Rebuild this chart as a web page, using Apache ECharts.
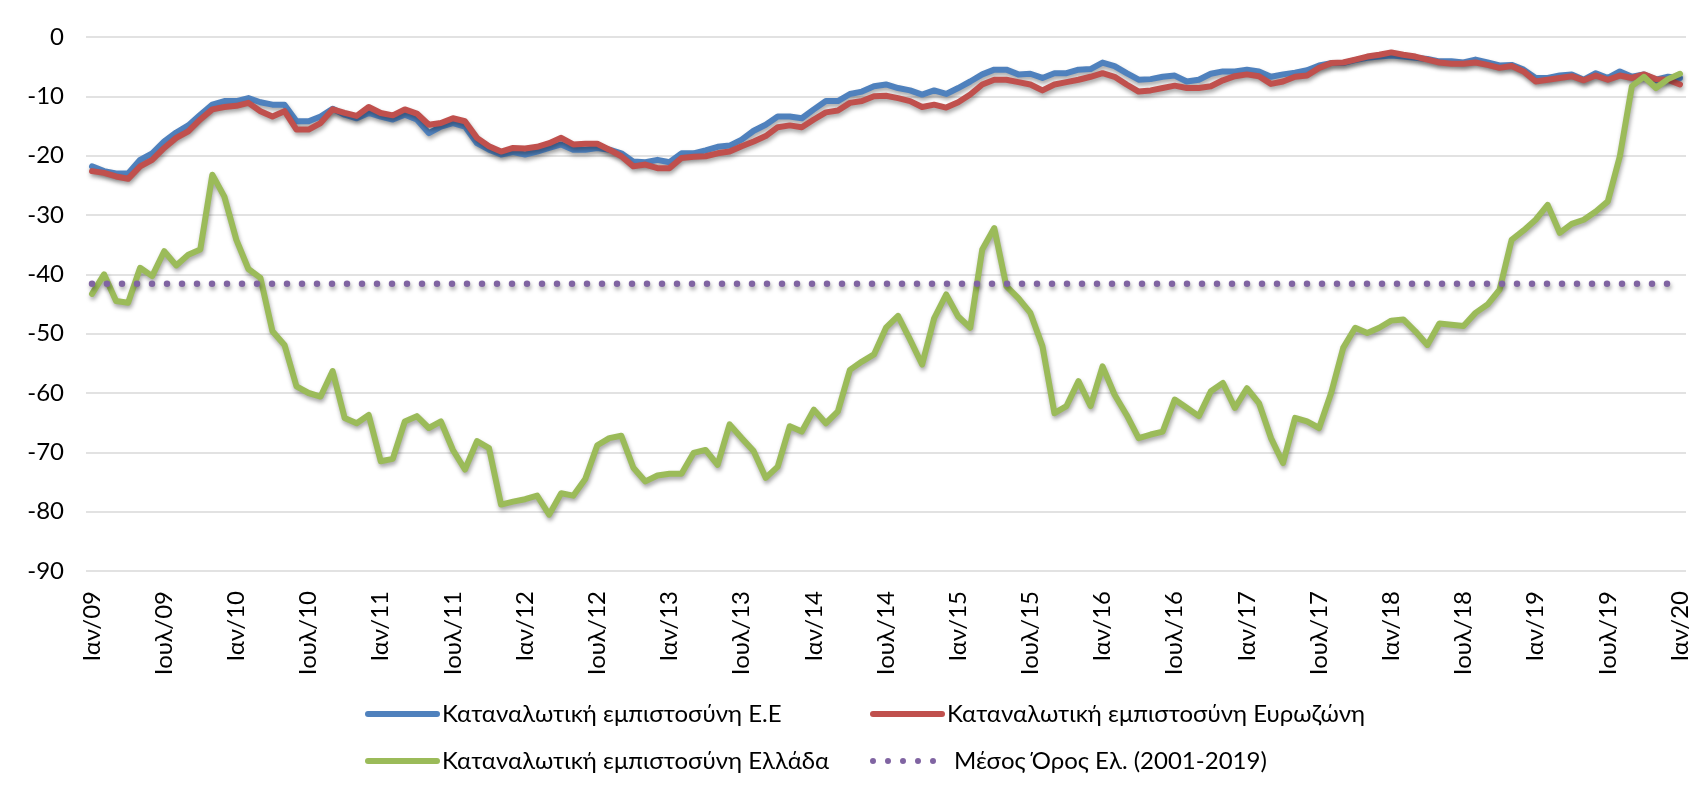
<!DOCTYPE html>
<html>
<head>
<meta charset="utf-8">
<script src="https://cdn.jsdelivr.net/npm/echarts@6/dist/echarts.min.js"></script>
<style>
html,body{margin:0;padding:0;background:#fff;}
#chart{width:1703px;height:794px;}
</style>
</head>
<body>
<div id="chart"></div>
<script>
// ---- Data ----
const monthNames = ['Ιαν','Φεβ','Μαρ','Απρ','Μαϊ','Ιουν','Ιουλ','Αυγ','Σεπ','Οκτ','Νοε','Δεκ'];
const years = ['09','10','11','12','13','14','15','16','17','18','19','20'];
const seriesNames = [
  'Καταναλωτική εμπιστοσύνη Ε.Ε',
  'Καταναλωτική εμπιστοσύνη Ευρωζώνη',
  'Καταναλωτική εμπιστοσύνη Ελλάδα',
  'Μέσος Όρος Ελ. (2001-2019)'
];
const yTicks = [0,-10,-20,-30,-40,-50,-60,-70,-80,-90];

const euValues = [
-21.8,-22.6,-23.0,-23.0,-20.7,-19.6,-17.6,-16.1,-14.9,-13.1,-11.4,-10.8,
-10.8,-10.3,-11.0,-11.4,-11.4,-14.2,-14.2,-13.4,-12.1,-13.1,-13.7,-12.8,
-13.4,-13.9,-13.1,-13.9,-16.2,-15.1,-14.5,-15.1,-17.9,-19.0,-19.8,-19.4,
-19.8,-19.3,-18.7,-18.1,-19.0,-19.0,-18.7,-19.0,-19.6,-21.0,-21.1,-20.7,
-21.1,-19.6,-19.6,-19.1,-18.5,-18.3,-17.3,-15.8,-14.8,-13.4,-13.4,-13.7,
-12.2,-10.8,-10.8,-9.6,-9.2,-8.3,-8.0,-8.6,-9.0,-9.7,-9.0,-9.6,
-8.6,-7.5,-6.3,-5.5,-5.5,-6.3,-6.2,-6.9,-6.1,-6.1,-5.5,-5.4,
-4.3,-4.9,-6.1,-7.2,-7.1,-6.7,-6.5,-7.5,-7.2,-6.2,-5.8,-5.8,
-5.5,-5.8,-6.7,-6.3,-6.0,-5.6,-4.8,-4.4,-4.4,-3.9,-3.5,-3.3,
-3.1,-3.3,-3.5,-3.7,-4.1,-4.1,-4.3,-3.8,-4.3,-4.8,-4.7,-5.5,
-6.9,-6.9,-6.5,-6.3,-7.2,-6.1,-6.9,-5.8,-6.7,-6.3,-7.2,-6.7,
-6.9
];
const euroValues = [
-22.6,-22.9,-23.5,-23.9,-21.8,-20.7,-18.7,-17.0,-15.9,-13.9,-12.2,-11.8,
-11.6,-11.1,-12.5,-13.4,-12.5,-15.6,-15.6,-14.5,-12.2,-12.8,-13.3,-11.8,
-12.8,-13.2,-12.2,-12.9,-14.8,-14.5,-13.7,-14.2,-17.0,-18.4,-19.3,-18.7,
-18.8,-18.5,-17.9,-17.0,-18.1,-18.0,-18.0,-19.0,-20.1,-21.8,-21.5,-22.1,
-22.1,-20.4,-20.2,-20.1,-19.6,-19.3,-18.4,-17.6,-16.7,-15.2,-14.9,-15.2,
-13.9,-12.7,-12.4,-11.1,-10.8,-10.0,-9.9,-10.3,-10.8,-11.8,-11.4,-11.9,
-11.0,-9.7,-8.0,-7.2,-7.2,-7.6,-8.0,-9.0,-8.0,-7.6,-7.2,-6.7,
-6.1,-6.7,-8.0,-9.2,-9.0,-8.6,-8.2,-8.6,-8.6,-8.3,-7.3,-6.6,
-6.3,-6.6,-7.9,-7.5,-6.7,-6.5,-5.2,-4.4,-4.3,-3.8,-3.3,-3.0,
-2.6,-3.0,-3.3,-3.8,-4.3,-4.5,-4.5,-4.3,-4.7,-5.2,-4.9,-5.8,
-7.5,-7.2,-6.9,-6.6,-7.3,-6.5,-7.2,-6.5,-6.9,-6.3,-7.1,-7.2,
-8.0
];
const greeceValues = [
-43.3,-40.0,-44.5,-44.8,-38.9,-40.3,-36.1,-38.5,-36.7,-35.8,-23.2,-26.9,
-34.2,-39.1,-40.6,-49.6,-51.9,-58.9,-60.0,-60.6,-56.3,-64.2,-65.1,-63.7,
-71.5,-71.1,-64.8,-63.9,-65.9,-64.8,-69.6,-72.9,-68.1,-69.3,-78.8,-78.3,
-77.9,-77.3,-80.5,-76.9,-77.3,-74.5,-68.8,-67.6,-67.2,-72.6,-74.9,-73.9,
-73.6,-73.6,-70.1,-69.6,-72.1,-65.3,-67.6,-69.8,-74.3,-72.4,-65.6,-66.5,
-62.8,-65.1,-63.1,-56.1,-54.7,-53.5,-49.0,-47.0,-51.0,-55.2,-47.4,-43.4,
-47.1,-49.0,-35.8,-32.2,-42.0,-44.0,-46.5,-52.1,-63.4,-62.2,-58.0,-62.2,
-55.5,-60.3,-63.7,-67.6,-67.0,-66.5,-61.1,-62.5,-63.9,-59.7,-58.3,-62.5,
-59.2,-61.7,-67.6,-71.8,-64.2,-64.8,-65.9,-60.0,-52.4,-49.0,-49.9,-49.0,
-47.8,-47.6,-49.6,-51.9,-48.3,-48.5,-48.7,-46.5,-45.1,-42.6,-34.2,-32.6,
-30.8,-28.3,-33.0,-31.5,-30.8,-29.4,-27.7,-20.1,-8.3,-6.7,-8.6,-7.1,
-6.2
];
const greeceAverage = -41.6;

// ---- Build categories (Jan 2009 .. Jan 2020) ----
const categories = [];
for (let y = 0; y < years.length; y++) {
  for (let m = 0; m < 12; m++) {
    categories.push(monthNames[m] + '/' + years[y]);
    if (y === years.length - 1) break;
  }
}
const averageLine = categories.map(() => greeceAverage);

const FONT = 'Lato, "Noto Sans", sans-serif';
const FS = 24;
const colors = ['#4F81BD', '#C0504D', '#9BBB59', '#8064A2'];
const shadow = { shadowColor: 'rgba(0,0,0,0.35)', shadowBlur: 4, shadowOffsetX: 1, shadowOffsetY: 3 };

function lineSeries(name, data, color, extra) {
  return Object.assign({
    name: name, type: 'line', data: data, symbol: 'none', smooth: false,
    lineStyle: Object.assign({ color: color, width: 6, join: 'round', cap: 'round' }, shadow),
    itemStyle: { color: color },
    emphasis: { disabled: true }
  }, extra || {});
}

const legendBase = {
  padding: 0,
  itemWidth: 69, itemHeight: 6, itemGap: 0,
  textStyle: { fontFamily: FONT, fontSize: FS, color: '#000' },
  itemStyle: { opacity: 0 },
  lineStyle: { width: 6, shadowBlur: 0, shadowOffsetX: 0, shadowOffsetY: 0, shadowColor: 'rgba(0,0,0,0)' },
  selectedMode: false
};

const option = {
  backgroundColor: '#fff',
  animation: false,
  grid: { left: 86, right: 15, top: 37, height: 534 },
  xAxis: {
    type: 'category', data: categories, boundaryGap: true,
    axisLine: { show: false }, axisTick: { show: false },
    axisLabel: { interval: 5, rotate: 90, margin: 20, fontFamily: FONT, fontSize: FS, color: '#000',
      lineHeight: FS, padding: [22, 0, 0, 0] },
    splitLine: { show: false }
  },
  yAxis: {
    type: 'value', min: -90, max: 0, interval: 10,
    axisLine: { show: false }, axisTick: { show: false },
    axisLabel: { margin: 22, fontFamily: FONT, fontSize: FS, color: '#000',
      formatter: v => (yTicks.indexOf(v) >= 0 ? String(v) : '') },
    splitLine: { lineStyle: { color: '#D9D9D9', width: 1.5 } }
  },
  legend: [
    Object.assign({}, legendBase, { data: [seriesNames[0]], left: 365, top: 702 }),
    Object.assign({}, legendBase, { data: [seriesNames[1]], left: 870, top: 702 }),
    Object.assign({}, legendBase, { data: [seriesNames[2]], left: 365, top: 749 }),
    Object.assign({}, legendBase, { data: [seriesNames[3]], left: 870, top: 749,
      textStyle: { fontFamily: FONT, fontSize: FS, color: '#000', padding: [0, 0, 0, 7] } })
  ],
  series: [
    lineSeries(seriesNames[0], euValues, colors[0]),
    lineSeries(seriesNames[1], euroValues, colors[1]),
    lineSeries(seriesNames[2], greeceValues, colors[2]),
    {
      name: seriesNames[3], type: 'line', data: averageLine, symbol: 'none',
      lineStyle: Object.assign({ color: colors[3], width: 6.5, type: [0, 15], cap: 'round' }, shadow),
      itemStyle: { color: colors[3] },
      emphasis: { disabled: true }
    }
  ]
};

const chart = echarts.init(document.getElementById('chart'), null, { renderer: 'canvas' });
chart.setOption(option);
</script>
</body>
</html>
